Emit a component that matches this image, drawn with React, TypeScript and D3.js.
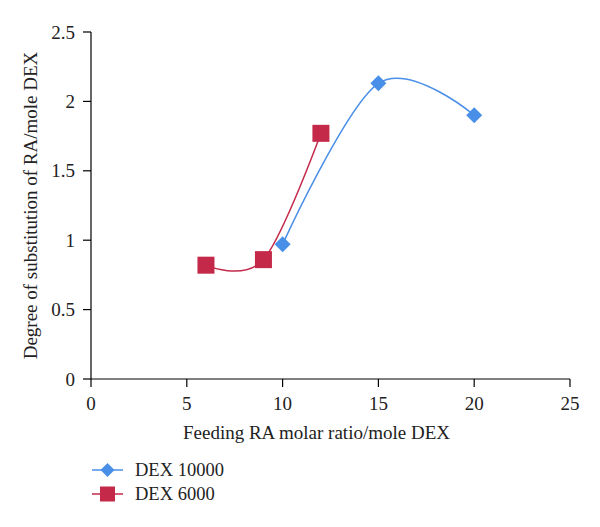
import React from "react";
import * as d3 from "d3";

const xTicks = [0, 5, 10, 15, 20, 25];
const yTicks = [0, 0.5, 1, 1.5, 2, 2.5];
const seriesNames = ["DEX 10000", "DEX 6000"];
const dex10000X = [10, 15, 20];
const dex10000Y = [0.97, 2.13, 1.9];
const dex6000X = [6, 9, 12];
const dex6000Y = [0.82, 0.86, 1.77];

const BLUE = "#4a8fe7";
const RED = "#c4294a";
const FONT = "'Liberation Serif', 'DejaVu Serif', serif";

export default function App() {
  const W = 600, H = 527;
  const x = d3.scaleLinear().domain([0, 25]).range([91, 570]);
  const y = d3.scaleLinear().domain([0, 2.5]).range([379, 32]);
  const line = d3
    .line<[number, number]>()
    .x((d) => x(d[0]))
    .y((d) => y(d[1]))
    .curve(d3.curveCatmullRom.alpha(0));
  const blue: [number, number][] = dex10000X.map((v, i) => [v, dex10000Y[i]]);
  const red: [number, number][] = dex6000X.map((v, i) => [v, dex6000Y[i]]);
  const diamond = (cx: number, cy: number, r: number) =>
    `M${cx},${cy - r}L${cx + r},${cy}L${cx},${cy + r}L${cx - r},${cy}Z`;
  const sq = 17;
  return (
    <svg width={W} height={H} style={{ position: "absolute", left: 0, top: 0 }}>
      <rect width={W} height={H} fill="#fff" />
      {/* axes */}
      <line x1={x(0)} x2={x(0)} y1={y(2.5)} y2={y(0)} stroke="#000" strokeWidth={1.2} />
      <line x1={x(0)} x2={x(25)} y1={y(0)} y2={y(0)} stroke="#000" strokeWidth={1.2} />
      {yTicks.map((t) => (
        <g key={"y" + t}>
          <line x1={x(0) - 8} x2={x(0)} y1={y(t)} y2={y(t)} stroke="#000" strokeWidth={1.2} />
          <text x={x(0) - 16} y={y(t)} dy="0.35em" textAnchor="end" fontFamily={FONT} fontSize={19} fill="#222">
            {t}
          </text>
        </g>
      ))}
      {xTicks.map((t) => (
        <g key={"x" + t}>
          <line x1={x(t)} x2={x(t)} y1={y(0)} y2={y(0) + 8} stroke="#000" strokeWidth={1.2} />
          <text x={x(t)} y={y(0) + 31} textAnchor="middle" fontFamily={FONT} fontSize={19} fill="#222">
            {t}
          </text>
        </g>
      ))}
      <text x={(x(0) + x(25)) / 2 - 14} y={439} textAnchor="middle" fontFamily={FONT} fontSize={19} fill="#222">
        Feeding RA molar ratio/mole DEX
      </text>
      <text
        transform={`translate(37,${(y(0) + y(2.5)) / 2}) rotate(-90)`}
        textAnchor="middle"
        fontFamily={FONT}
        fontSize={19}
        fill="#222"
      >
        Degree of substitution of RA/mole DEX
      </text>
      {/* series */}
      <path d={line(blue) || ""} fill="none" stroke={BLUE} strokeWidth={1.5} />
      <path d={line(red) || ""} fill="none" stroke={RED} strokeWidth={1.5} />
      {blue.map((d, i) => (
        <path key={"b" + i} d={diamond(x(d[0]), y(d[1]), 8)} fill={BLUE} />
      ))}
      {red.map((d, i) => (
        <rect key={"r" + i} x={x(d[0]) - sq / 2} y={y(d[1]) - sq / 2} width={sq} height={sq} fill={RED} />
      ))}
      {/* legend */}
      <g>
        <line x1={92} x2={123} y1={470} y2={470} stroke={BLUE} strokeWidth={1.5} />
        <path d={diamond(107.5, 470, 7)} fill={BLUE} />
        <text x={135} y={470} dy="0.35em" fontFamily={FONT} fontSize={18.5} fill="#222">
          {seriesNames[0]}
        </text>
        <line x1={92} x2={123} y1={494} y2={494} stroke={RED} strokeWidth={1.5} />
        <rect x={107.5 - 7.5} y={494 - 7.5} width={15} height={15} fill={RED} />
        <text x={135} y={494} dy="0.35em" fontFamily={FONT} fontSize={18.5} fill="#222">
          {seriesNames[1]}
        </text>
      </g>
    </svg>
  );
}
